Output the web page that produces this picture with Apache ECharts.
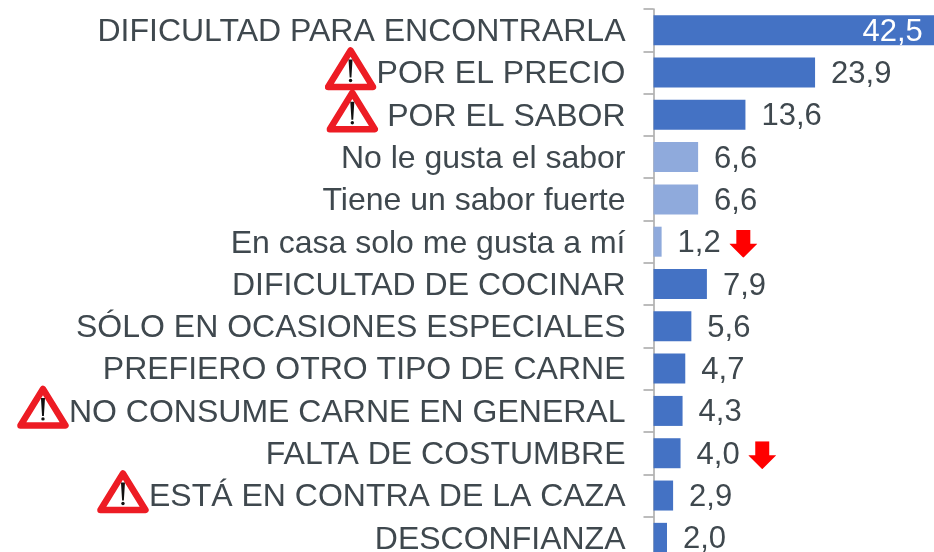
<!DOCTYPE html>
<html>
<head>
    <meta charset="UTF-8">
    <title>Motivos</title>
    <script src="https://cdn.jsdelivr.net/npm/echarts@6/dist/echarts.min.js"></script>
    <style>
        html, body { margin: 0; padding: 0; background: #fff; overflow: hidden; }
        #chart { width: 934px; height: 552px; }
    </style>
</head>
<body>
    <div id="chart"></div>
    <script>
        var categories = [
            'DIFICULTAD PARA ENCONTRARLA',
            'POR EL PRECIO',
            ' POR EL SABOR',
            'No le gusta el sabor',
            'Tiene un sabor fuerte',
            'En casa solo me gusta a mí',
            'DIFICULTAD DE COCINAR',
            'SÓLO EN OCASIONES ESPECIALES',
            'PREFIERO OTRO TIPO DE CARNE',
            'NO CONSUME CARNE EN GENERAL',
            'FALTA DE COSTUMBRE',
            'ESTÁ EN CONTRA DE LA CAZA',
            'DESCONFIANZA'
        ];
        var values = [42.5, 23.9, 13.6, 6.6, 6.6, 1.2, 7.9, 5.6, 4.7, 4.3, 4.0, 2.9, 2.0];
        // sub-motivos en azul claro
        var lightRows = ['No le gusta el sabor', 'Tiene un sabor fuerte', 'En casa solo me gusta a mí'];
        var warnRows = ['POR EL PRECIO', ' POR EL SABOR', 'NO CONSUME CARNE EN GENERAL', 'ESTÁ EN CONTRA DE LA CAZA'];
        var downRows = ['En casa solo me gusta a mí', 'FALTA DE COSTUMBRE'];

        var FONT = '"Liberation Sans", Arial, sans-serif';
        var TEXT = '#3f484e';

        // el triángulo va en la parte alta del svg para que quede algo por encima del texto
        var warnSvg = '<svg xmlns="http://www.w3.org/2000/svg" width="52" height="54" viewBox="0 0 52 54">' +
            '<path d="M26 5 L48.5 41.5 L3.5 41.5 Z" fill="#fff" stroke="#ed1c24" stroke-width="6.5" stroke-linejoin="round"/>' +
            '<path d="M24 14 L28 14 L26.9 32 L25.1 32 Z" fill="#111"/><circle cx="26" cy="35" r="1.7" fill="#111"/></svg>';
        var arrowSvg = '<svg xmlns="http://www.w3.org/2000/svg" width="28" height="28" viewBox="0 0 28 28">' +
            '<path d="M7 0 L21 0 L21 14 L28 14 L14 28 L0 14 L7 14 Z" fill="#ff0000"/></svg>';
        function svgUri(s) { return 'data:image/svg+xml;charset=utf-8,' + encodeURIComponent(s); }

        var chart = echarts.init(document.getElementById('chart'));

        var option = {
            animation: false,
            backgroundColor: '#fff',
            // la parte baja y la barra mayor quedan recortadas, como en el original
            grid: { left: 653.5, top: 9, width: 338, height: 550, outerBoundsMode: 'none' },
            xAxis: { type: 'value', min: 0, max: 50, show: false },
            yAxis: {
                type: 'category',
                inverse: true,
                data: categories,
                axisLine: { lineStyle: { color: '#a6a6a6', width: 1.5 } },
                axisTick: { show: true, length: 10, alignWithLabel: false, lineStyle: { color: '#a6a6a6', width: 1.5 } },
                axisLabel: {
                    interval: 0,
                    margin: 28,
                    fontFamily: FONT,
                    fontSize: 32,
                    color: TEXT,
                    formatter: function (name) {
                        return (warnRows.indexOf(name) >= 0 ? '{warn|}' : '') + '{t|' + name + '}';
                    },
                    rich: {
                        t: { fontFamily: FONT, fontSize: 32, color: TEXT, padding: [4, 0, 0, 0] },
                        warn: { width: 52, height: 54, backgroundColor: { image: svgUri(warnSvg) } }
                    }
                }
            },
            series: [{
                type: 'bar',
                barWidth: 30,
                data: values.map(function (v, i) {
                    var item = {
                        value: v,
                        itemStyle: { color: lightRows.indexOf(categories[i]) >= 0 ? '#8faadc' : '#4472c4' }
                    };
                    if (i === 0) {
                        item.label = { position: 'insideRight', distance: 18, color: '#fff' };
                    }
                    return item;
                }),
                label: {
                    show: true,
                    position: 'right',
                    distance: 16,
                    fontFamily: FONT,
                    fontSize: 31,
                    color: TEXT,
                    padding: [4, 0, 0, 0],
                    formatter: function (p) {
                        var txt = p.value.toFixed(1).replace('.', ',');
                        return downRows.indexOf(p.name) >= 0 ? txt + ' {arrow|}' : txt;
                    },
                    rich: {
                        arrow: { width: 28, height: 28, backgroundColor: { image: svgUri(arrowSvg) } }
                    }
                }
            }]
        };
        chart.setOption(option);
    </script>
</body>
</html>
